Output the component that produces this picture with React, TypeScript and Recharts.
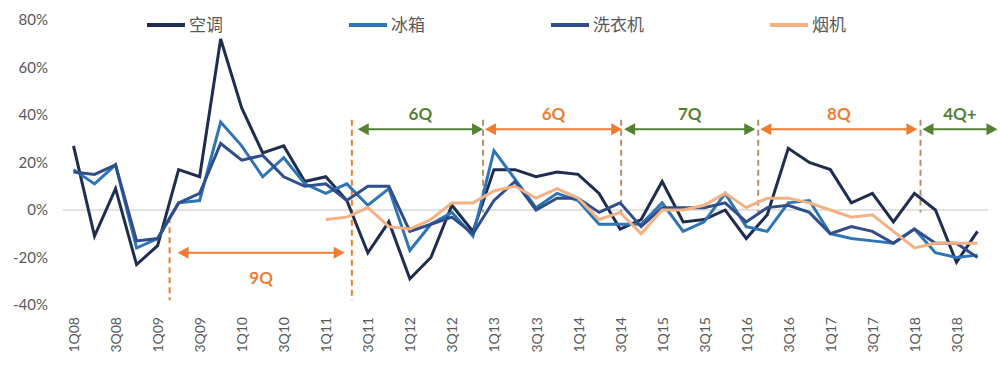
import { LineChart, Line, XAxis, YAxis, ReferenceLine } from 'recharts';

// 1Q08 .. 4Q18, one point per quarter
const quarters = [
  '1Q08', '2Q08', '3Q08', '4Q08', '1Q09', '2Q09', '3Q09', '4Q09',
  '1Q10', '2Q10', '3Q10', '4Q10', '1Q11', '2Q11', '3Q11', '4Q11',
  '1Q12', '2Q12', '3Q12', '4Q12', '1Q13', '2Q13', '3Q13', '4Q13',
  '1Q14', '2Q14', '3Q14', '4Q14', '1Q15', '2Q15', '3Q15', '4Q15',
  '1Q16', '2Q16', '3Q16', '4Q16', '1Q17', '2Q17', '3Q17', '4Q17',
  '1Q18', '2Q18', '3Q18', '4Q18',
];

// yoy growth, %
const airCon = [
  27, -11, 9, -23, -15, 17, 14, 72, 43, 24, 27, 12, 14, 4, -18, -5,
  -29, -20, 2, -9, 17, 17, 14, 16, 15, 7, -8, -4, 12, -5, -4, 0,
  -12, -2, 26, 20, 17, 3, 7, -5, 7, 0, -22, -9,
];
const fridge = [
  17, 11, 19, -16, -12, 3, 4, 37, 27, 14, 22, 11, 7, 11, 2, 9,
  -17, -6, -1, -11, 25, 13, 1, 7, 4, -6, -6, -6, 3, -9, -5, 7,
  -7, -9, 3, 4, -10, -12, -13, -14, -8, -18, -20, -19,
];
const washer = [
  16, 15, 19, -13, -12, 3, 7, 28, 21, 23, 14, 10, 11, 4, 10, 10,
  -9, -6, -3, -10, 4, 12, 0, 5, 5, -1, 3, -7, 1, 1, 1, 3,
  -5, 1, 2, -1, -10, -7, -9, -14, -8, -14, -14, -20,
];
const hood = [
  null, null, null, null, null, null, null, null, null, null, null, null,
  -4, -3, 1, -7, -8, -4, 3, 3, 8, 10, 5, 9, 5, -4, -1, -10, 0, 0, 2, 7,
  1, 5, 5, 3, 0, -3, -2, -9, -16, -14, -14, -14,
];

const seriesNames = ['空调', '冰箱', '洗衣机', '烟机'];
const yTicks = [-40, -20, 0, 20, 40, 60, 80];
const xTicks = [0, 2, 4, 6, 8, 10, 12, 14, 16, 18, 20, 22, 24, 26, 28, 30, 32, 34, 36, 38, 40, 42];

// cycle boundaries (quarter index) and spans
const breakAt = [4.57, 13.24, 19.48, 26.05, 32.57, 40.29];
const breakTop = [-3, 38, 38, 38, 38, 38];
const breakBottom = [-38, -38, -1, -1, -1, -1];
const spanLabels = ['9Q', '6Q', '6Q', '7Q', '8Q', '4Q+'];
const spanStart = [4.95, 13.52, 19.57, 26.19, 32.67, 40.38];
const spanEnd = [12.9, 19.48, 26.1, 32.43, 40.14, 43.95];
const spanLevel = [-18, 34, 34, 34, 34, 34];

const ORANGE = '#ED7D31';
const GREEN = '#548235';
const colors = ['#1F2E4F', '#2E75B6', '#2F4E8A', '#F4B183'];
const FONT = 'Lato, "Noto Sans CJK SC", sans-serif';

const data = quarters.map((q, i) => ({
  idx: i,
  q,
  airCon: airCon[i],
  fridge: fridge[i],
  washer: washer[i],
  hood: hood[i],
}));

const QuarterTick = (props: any) => {
  const { x, y, payload } = props;
  return (
    <text
      x={x}
      y={y}
      transform={`rotate(-90 ${x} ${y})`}
      textAnchor="end"
      dominantBaseline="central"
      fill="#595959"
      fontSize={14}
      fontFamily={FONT}
    >
      {quarters[payload.value]}
    </text>
  );
};

const arrowShape = (color: string, text: string, textDy: number) => (props: any) => {
  const { x1, y1, x2, y2 } = props;
  const len = 11;
  const h = 6;
  return (
    <g>
      <line x1={x1 + len - 2} y1={y1} x2={x2 - len + 2} y2={y2} stroke={color} strokeWidth={2} />
      <polygon points={`${x1},${y1} ${x1 + len},${y1 - h} ${x1 + len},${y1 + h}`} fill={color} />
      <polygon points={`${x2},${y2} ${x2 - len},${y2 - h} ${x2 - len},${y2 + h}`} fill={color} />
      <text
        x={(x1 + x2) / 2}
        y={y1 + textDy}
        textAnchor="middle"
        dominantBaseline="central"
        fill={color}
        fontSize={17}
        fontWeight={700}
        fontFamily={FONT}
      >
        {text}
      </text>
    </g>
  );
};

export default function App() {
  const keys = ['airCon', 'fridge', 'washer', 'hood'];
  return (
    <div style={{ position: 'relative', width: 1000, height: 368, fontFamily: FONT, background: '#fff' }}>
      <style>{'body{margin:0}'}</style>
      <LineChart width={1000} height={368} data={data} margin={{ top: 20, right: 12, bottom: 0, left: 0 }}>
        <XAxis
          dataKey="idx"
          type="number"
          domain={[-0.5, 43.5]}
          ticks={xTicks}
          interval={0}
          axisLine={false}
          tickLine={false}
          tickSize={0}
          tickMargin={12}
          height={63}
          tick={<QuarterTick />}
        />
        <YAxis
          domain={[-40, 80]}
          ticks={yTicks}
          width={63}
          axisLine={false}
          tickLine={false}
          tickSize={0}
          tickMargin={15}
          tickFormatter={(v) => `${v}%`}
          tick={{ fill: '#595959', fontSize: 15, fontFamily: FONT }}
        />
        <ReferenceLine y={0} stroke="#D9D9D9" strokeWidth={1.5} />
        {breakAt.map((x, i) => (
          <ReferenceLine
            key={`b${i}`}
            segment={[{ x, y: breakTop[i] }, { x, y: breakBottom[i] }]}
            stroke={i < 2 ? ORANGE : '#B4926E'}
            strokeWidth={2}
            strokeDasharray="6 4"
            ifOverflow="visible"
          />
        ))}
        {spanLabels.map((label, i) => (
          <ReferenceLine
            key={`s${i}`}
            segment={[{ x: spanStart[i], y: spanLevel[i] }, { x: spanEnd[i], y: spanLevel[i] }]}
            ifOverflow="visible"
            shape={arrowShape(i % 2 === 0 ? ORANGE : GREEN, label, spanLevel[i] < 0 ? 25 : -16)}
          />
        ))}
        {keys.map((k, i) => (
          <Line
            key={k}
            dataKey={k}
            name={seriesNames[i]}
            stroke={colors[i]}
            strokeWidth={3}
            dot={false}
            connectNulls={false}
            isAnimationActive={false}
          />
        ))}
      </LineChart>
      <div
        style={{
          position: 'absolute',
          top: 13,
          left: 147,
          display: 'flex',
          gap: 126,
          fontSize: 17,
          color: '#595959',
          lineHeight: '24px',
        }}
      >
        {seriesNames.map((n, i) => (
          <div key={n} style={{ display: 'flex', alignItems: 'center' }}>
            <span style={{ display: 'inline-block', width: 38, height: 4, background: colors[i], marginRight: 4 }} />
            <span>{n}</span>
          </div>
        ))}
      </div>
    </div>
  );
}
